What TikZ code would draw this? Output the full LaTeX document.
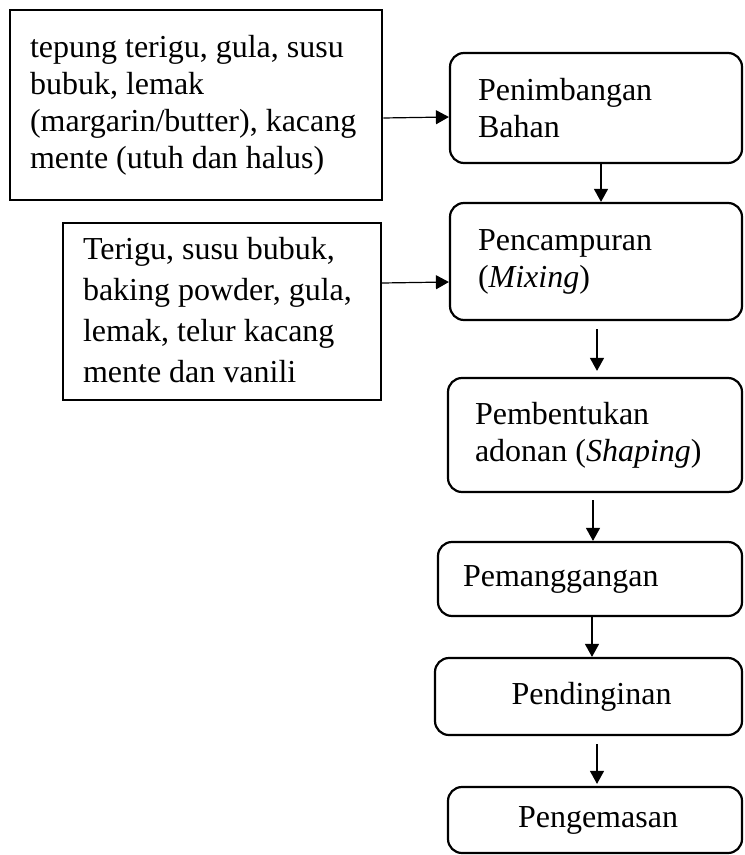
\documentclass[tikz,border=0pt]{standalone}
\usepackage{fontspec}
\setmainfont{Liberation Serif}
\usetikzlibrary{arrows.meta}
\begin{document}
\begin{tikzpicture}[x=0.5pt,y=-0.5pt]
  % Styles
  \tikzstyle{bahan}=[draw,line width=1.4pt,align=flush left,inner ysep=0pt,
    font=\fontsize{16}{18.5}\selectfont]
  \tikzstyle{proses}=[draw,line width=1.1pt,rounded corners=7pt,inner ysep=0pt,
    font=\fontsize{16}{18.5}\selectfont]
  \tikzstyle{panah}=[line width=0.6pt,-{Triangle[length=6.5pt,width=7pt]}]

  \useasboundingbox (0,0) rectangle (744,855);

  % Bahan
  \node[bahan,minimum width=186pt,minimum height=95pt,text width=166pt,inner xsep=10pt]
    (bahan1) at (196,105)
    {tepung terigu, gula, susu\\ bubuk, lemak\\ (margarin/butter), kacang\\ mente (utuh dan halus)};
  \node[bahan,line width=1.2pt,minimum width=159pt,minimum height=88.5pt,text width=139pt,
    inner xsep=10pt,font=\fontsize{16}{20.5}\selectfont]
    (bahan2) at (222,311.5)
    {Terigu, susu bubuk,\\ baking powder, gula,\\ lemak, telur kacang\\ mente dan vanili\rule[-2pt]{0pt}{2pt}};

  % Proses
  \node[proses,align=flush left,minimum width=146pt,minimum height=55pt,text width=118pt,inner xsep=14pt]
    (timbang) at (596,108) {Penimbangan\\ Bahan};
  \node[proses,align=flush left,minimum width=146pt,minimum height=58.5pt,text width=118pt,inner xsep=14pt]
    (campur) at (596,261.5) {Pencampuran\\ (\textit{Mixing})};
  \node[proses,align=flush left,minimum width=147pt,minimum height=57pt,text width=120pt,inner xsep=13.5pt]
    (bentuk) at (595,435) {Pembentukan\\ adonan (\textit{Shaping})};
  \node[proses,align=flush left,minimum width=152pt,minimum height=37pt,text width=127pt,inner xsep=12.5pt]
    (panggang) at (590,579) {Pemanggangan};
  \node[proses,align=flush center,minimum width=153.5pt,minimum height=38.5pt,text width=133.5pt,inner xsep=10pt]
    (dingin) at (588.5,696.5) {\hspace*{3pt}Pendinginan};
  \node[proses,align=flush center,minimum width=147pt,minimum height=33pt,text width=127pt,inner xsep=10pt]
    (kemas) at (595,820) {\hspace*{3pt}Pengemasan};

  % Panah
  \draw[panah] ([yshift=-6.5pt]bahan1.east) -- ([yshift=-4.5pt]timbang.west);
  \draw[panah] ([yshift=14.25pt]bahan2.east) -- ([yshift=-10.25pt]campur.west);
  \draw[panah] ([xshift=2.5pt]timbang.south) -- ([xshift=2.5pt]campur.north);
  \draw[panah] ([xshift=0.5pt,yshift=-4pt]campur.south) -- ([xshift=1pt,yshift=3pt]bentuk.north);
  \draw[panah] ([xshift=-1pt,yshift=-3.5pt]bentuk.south) -- ([xshift=1.5pt]panggang.north);
  \draw[panah] ([xshift=1pt]panggang.south) -- ([xshift=1.75pt]dingin.north);
  \draw[panah] ([xshift=4.25pt,yshift=-4pt]dingin.south) -- ([xshift=1pt,yshift=1pt]kemas.north);
\end{tikzpicture}
\end{document}
